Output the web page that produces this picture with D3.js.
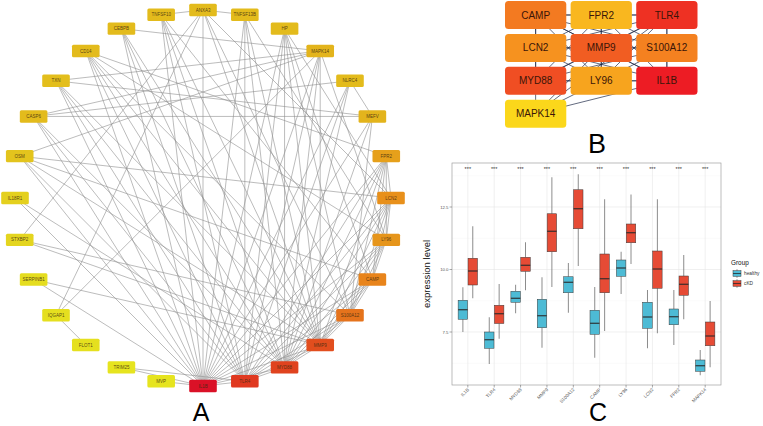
<!DOCTYPE html>
<html>
<head>
<meta charset="utf-8">
<script src="https://cdn.jsdelivr.net/npm/d3@7"></script>
<style>
html,body{margin:0;padding:0;background:#fff;}
svg{display:block;font-family:Arial,"Liberation Sans",sans-serif;}
</style>
</head>
<body>
<svg id="fig" width="763" height="426"></svg>
<script>
// ---------------- DATA ----------------
// Panel A: circular PPI network (clockwise from top)
const networkNodes = ["ANXA3","TNFSF13B","HP","MAPK14","NLRC4","MEFV","FPR2","LCN2","LY96","CAMP","S100A12","MMP9","MYD88","TLR4","IL1B","MVP","TRIM25","FLOT1","IQGAP1","SERPINB1","STXBP2","IL18R1","OSM","CASP6","TXN","CD14","CEBPB","TNFSF10"];
const hubGenes = ["CAMP","FPR2","TLR4","LCN2","MMP9","S100A12","MYD88","LY96","IL1B","MAPK14"];
const hubEdges = [
 ["CAMP","FPR2"],["CAMP","TLR4"],["CAMP","LCN2"],["CAMP","MMP9"],["CAMP","S100A12"],["CAMP","MYD88"],["CAMP","LY96"],["CAMP","IL1B"],
 ["FPR2","TLR4"],["FPR2","LCN2"],["FPR2","MMP9"],["FPR2","S100A12"],["FPR2","LY96"],["FPR2","IL1B"],["FPR2","MYD88"],
 ["TLR4","LCN2"],["TLR4","MMP9"],["TLR4","S100A12"],["TLR4","MYD88"],["TLR4","LY96"],["TLR4","IL1B"],["TLR4","MAPK14"],
 ["LCN2","MMP9"],["LCN2","S100A12"],["LCN2","MYD88"],["LCN2","LY96"],["LCN2","IL1B"],
 ["MMP9","S100A12"],["MMP9","MYD88"],["MMP9","LY96"],["MMP9","IL1B"],["MMP9","MAPK14"],
 ["S100A12","MYD88"],["S100A12","LY96"],["S100A12","IL1B"],
 ["MYD88","LY96"],["MYD88","IL1B"],["MYD88","MAPK14"],
 ["LY96","IL1B"],["LY96","MAPK14"],["IL1B","MAPK14"]
];
const peripheryEdges = [
 ["ANXA3","TNFSF10"],["ANXA3","TNFSF13B"],["ANXA3","IL1B"],["ANXA3","MMP9"],["ANXA3","S100A12"],["ANXA3","LCN2"],["ANXA3","STXBP2"],["ANXA3","IQGAP1"],
 ["TNFSF10","IL1B"],["TNFSF10","TLR4"],["TNFSF10","MYD88"],["TNFSF10","MMP9"],["TNFSF10","CAMP"],
 ["TNFSF13B","IL1B"],["TNFSF13B","TLR4"],["TNFSF13B","MYD88"],["TNFSF13B","MMP9"],["TNFSF13B","LY96"],
 ["CEBPB","MAPK14"],["CEBPB","IL1B"],["CEBPB","TLR4"],["CEBPB","MMP9"],["CEBPB","MYD88"],
 ["HP","IL1B"],["HP","TLR4"],["HP","MMP9"],["HP","S100A12"],["HP","CAMP"],["HP","LCN2"],["HP","MYD88"],
 ["CD14","TLR4"],["CD14","LY96"],["CD14","IL1B"],["CD14","MYD88"],["CD14","S100A12"],["CD14","FPR2"],["CD14","MMP9"],
 ["MAPK14","TXN"],["MAPK14","OSM"],["MAPK14","CASP6"],["MAPK14","IQGAP1"],
 ["TXN","MEFV"],["TXN","IL1B"],["TXN","TLR4"],["TXN","MMP9"],["TXN","MYD88"],
 ["NLRC4","CASP6"],["NLRC4","IL1B"],["NLRC4","MYD88"],["NLRC4","TLR4"],["NLRC4","MEFV"],
 ["CASP6","MEFV"],["CASP6","IL1B"],["CASP6","MYD88"],["CASP6","TLR4"],
 ["MEFV","IL1B"],["MEFV","MYD88"],["MEFV","S100A12"],
 ["OSM","IL1B"],["OSM","MMP9"],["OSM","LCN2"],["OSM","TLR4"],["OSM","CAMP"],
 ["IL18R1","IL1B"],["IL18R1","MYD88"],
 ["STXBP2","S100A12"],["STXBP2","MMP9"],
 ["SERPINB1","IL1B"],["SERPINB1","MMP9"],
 ["IQGAP1","FLOT1"],
 ["TRIM25","IL1B"],["TRIM25","TLR4"],
 ["MVP","IL1B"]
];
// Panel C: boxplot stats [lower whisker, Q1, median, Q3, upper whisker]
const boxCategories = ["IL1B","TLR4","MYD88","MMP9","S100A12","CAMP","LY96","LCN2","FPR2","MAPK14"];
const groups = ["healthy","cKD"];
const healthyStats = [
 [7.50,8.01,8.39,8.77,9.29],
 [6.22,6.85,7.19,7.50,8.09],
 [8.25,8.69,8.85,9.13,9.39],
 [6.87,7.67,8.15,8.81,9.69],
 [8.27,9.07,9.49,9.71,10.26],
 [6.47,7.41,7.85,8.37,9.30],
 [9.02,9.73,10.06,10.38,10.71],
 [6.85,7.65,8.10,8.69,9.18],
 [6.98,7.79,8.11,8.42,9.18],
 [5.77,5.93,6.15,6.38,6.78]
];
const ckdStats = [
 [8.85,9.38,9.94,10.45,11.73],
 [7.23,7.84,8.23,8.57,9.42],
 [9.17,9.93,10.17,10.49,11.09],
 [9.30,10.71,11.53,12.23,13.69],
 [10.14,11.63,12.43,13.19,13.81],
 [7.54,9.07,9.63,10.62,12.81],
 [10.22,11.07,11.47,11.82,13.00],
 [7.45,9.25,10.02,10.74,12.81],
 [8.01,8.97,9.41,9.74,10.58],
 [6.09,6.95,7.34,7.90,8.74]
];
const significance = ["***","***","***","***","***","***","***","***","***","***"];
const yTicks = [7.5, 10.0, 12.5];
const yTickLabels = ["7.5","10.0","12.5"];
const panelLetters = ["A","B","C"];

// ---------------- STYLES ----------------
const nodeFillA = {
 ANXA3:"#E3BB1C",TNFSF13B:"#E3BB1C",HP:"#E3BB1C",MAPK14:"#E3B41C",NLRC4:"#E3BB1C",MEFV:"#E3B41C",
 FPR2:"#E6A01B",LCN2:"#E8901B",LY96:"#E6951B",CAMP:"#E8841B",S100A12:"#E5731C",MMP9:"#E24E1E",
 MYD88:"#E0431F",TLR4:"#E03920",IL1B:"#DA1127",MVP:"#E6E41F",TRIM25:"#E6E41F",FLOT1:"#E5E01F",
 IQGAP1:"#E5DF1F",SERPINB1:"#E5DD1F",STXBP2:"#E4D51F",IL18R1:"#E4D01E",OSM:"#E3C41D",
 CASP6:"#E3BB1C",TXN:"#E3BE1C",CD14:"#E3BB1C",CEBPB:"#E3BB1C",TNFSF10:"#E3BB1C"
};
const hubFill = {
 CAMP:"#F37A21",FPR2:"#F9B71F",TLR4:"#EE3123",LCN2:"#F6921F",MMP9:"#F15D22",
 S100A12:"#F48120",MYD88:"#F04E23",LY96:"#F7A41E",IL1B:"#ED1C24",MAPK14:"#FBD71B"
};
const groupColor = d3.scaleOrdinal().domain(groups).range(["#4DBBD5","#E64B35"]);

const svg = d3.select("#fig");

// ---------------- PANEL A ----------------
(function(){
  const cx = 203, cy = 198, r = 188;
  const ang = d3.scaleLinear().domain([0, networkNodes.length]).range([0, 2*Math.PI]);
  const pos = {};
  networkNodes.forEach((n,i)=>{ pos[n] = [cx + r*Math.sin(ang(i)), cy - r*Math.cos(ang(i))]; });
  const g = svg.append("g");
  const edges = hubEdges.concat(peripheryEdges);
  g.append("g").selectAll("line").data(edges).join("line")
    .attr("x1",d=>pos[d[0]][0]).attr("y1",d=>pos[d[0]][1])
    .attr("x2",d=>pos[d[1]][0]).attr("y2",d=>pos[d[1]][1])
    .attr("stroke","#8e8e8e").attr("stroke-width",0.6);
  const w = 27.6, h = 12.4;
  const ng = g.append("g").selectAll("g").data(networkNodes).join("g")
    .attr("transform",d=>`translate(${pos[d][0]},${pos[d][1]})`);
  ng.append("rect").attr("x",-w/2).attr("y",-h/2).attr("width",w).attr("height",h).attr("rx",1.5)
    .attr("fill",d=>nodeFillA[d]);
  ng.append("text").text(d=>d).attr("text-anchor","middle").attr("dy","0.35em")
    .attr("font-size",4.5).attr("fill","#3d2a10").attr("fill-opacity",0.85);
  svg.append("text").text(panelLetters[0]).attr("x",201).attr("y",420.5)
    .attr("text-anchor","middle").attr("font-size",25).attr("fill","#000");
})();

// ---------------- PANEL B ----------------
(function(){
  const col = d3.scaleBand().domain([0,1,2]).range([505,697.5]).paddingInner(0.066);
  const row = d3.scaleBand().domain([0,1,2,3]).range([1,127.7]).paddingInner(0.149);
  const pos = {};
  hubGenes.forEach((n,i)=>{ pos[n] = {x:col(i%3), y:row(Math.floor(i/3))}; });
  const bw = col.bandwidth(), bh = row.bandwidth();
  const g = svg.append("g");
  g.append("g").selectAll("line").data(hubEdges).join("line")
    .attr("x1",d=>pos[d[0]].x+bw/2).attr("y1",d=>pos[d[0]].y+bh/2)
    .attr("x2",d=>pos[d[1]].x+bw/2).attr("y2",d=>pos[d[1]].y+bh/2)
    .attr("stroke","#1e2a48").attr("stroke-width",0.7);
  const ng = g.append("g").selectAll("g").data(hubGenes).join("g")
    .attr("transform",d=>`translate(${pos[d].x},${pos[d].y})`);
  ng.append("rect").attr("width",bw).attr("height",bh).attr("rx",3.5).attr("fill",d=>hubFill[d]);
  ng.append("text").text(d=>d).attr("x",bw/2).attr("y",bh/2).attr("dy","0.36em")
    .attr("text-anchor","middle").attr("font-size",10).attr("fill","#3a1508");
  svg.append("text").text(panelLetters[1]).attr("x",597).attr("y",153)
    .attr("text-anchor","middle").attr("font-size",27).attr("fill","#000");
})();

// ---------------- PANEL C ----------------
(function(){
  const L = 452, R = 721, T = 163, B = 385;
  const x = d3.scalePoint().domain(boxCategories).range([L,R]).padding(0.6);
  const y = d3.scaleLinear().domain([5.38,14.26]).range([B,T]);
  const step = x.step();
  const dodge = d3.scalePoint().domain(groups).range([-0.1875*step, 0.1875*step]);
  const bw = 0.36*step;
  const g = svg.append("g");
  const minor = d3.range(yTicks.length+1).map(i=>yTicks[0]-1.25+2.5*i).filter(v=>v>y.domain()[0]&&v<y.domain()[1]);
  g.append("g").selectAll("line").data(minor).join("line")
    .attr("x1",L).attr("x2",R).attr("y1",d=>y(d)).attr("y2",d=>y(d))
    .attr("stroke","#f2f2f2").attr("stroke-width",0.4);
  g.append("g").selectAll("line").data(yTicks).join("line")
    .attr("x1",L).attr("x2",R).attr("y1",d=>y(d)).attr("y2",d=>y(d))
    .attr("stroke","#e6e6e6").attr("stroke-width",0.6);
  g.append("g").selectAll("line").data(boxCategories).join("line")
    .attr("x1",d=>x(d)).attr("x2",d=>x(d)).attr("y1",T).attr("y2",B)
    .attr("stroke","#e6e6e6").attr("stroke-width",0.6);
  const rows = [];
  boxCategories.forEach((c,i)=>{
    rows.push({cat:c, grp:"healthy", s:healthyStats[i]});
    rows.push({cat:c, grp:"cKD", s:ckdStats[i]});
  });
  const bg = g.append("g").selectAll("g").data(rows).join("g")
    .attr("transform",d=>`translate(${x(d.cat)+dodge(d.grp)},0)`);
  bg.append("line").attr("x1",0).attr("x2",0).attr("y1",d=>y(d.s[0])).attr("y2",d=>y(d.s[1]))
    .attr("stroke","#6e6e6e").attr("stroke-width",0.8);
  bg.append("line").attr("x1",0).attr("x2",0).attr("y1",d=>y(d.s[3])).attr("y2",d=>y(d.s[4]))
    .attr("stroke","#6e6e6e").attr("stroke-width",0.8);
  bg.append("rect").attr("x",-bw/2).attr("width",bw)
    .attr("y",d=>y(d.s[3])).attr("height",d=>y(d.s[1])-y(d.s[3]))
    .attr("fill",d=>groupColor(d.grp)).attr("stroke","#3a3a3a").attr("stroke-width",0.5);
  bg.append("line").attr("x1",-bw/2).attr("x2",bw/2).attr("y1",d=>y(d.s[2])).attr("y2",d=>y(d.s[2]))
    .attr("stroke","#2a2a2a").attr("stroke-width",1.1);
  g.append("rect").attr("x",L).attr("y",T).attr("width",R-L).attr("height",B-T)
    .attr("fill","none").attr("stroke","#a0a0a0").attr("stroke-width",0.7);
  g.append("g").selectAll("text").data(boxCategories).join("text")
    .attr("x",d=>x(d)).attr("y",171).attr("text-anchor","middle")
    .attr("font-size",5.5).attr("fill","#333").text((d,i)=>significance[i]);
  g.append("g").selectAll("line").data(yTicks).join("line")
    .attr("x1",L-2.5).attr("x2",L).attr("y1",d=>y(d)).attr("y2",d=>y(d))
    .attr("stroke","#555").attr("stroke-width",0.5);
  g.append("g").selectAll("text").data(yTicks).join("text")
    .attr("x",L-3.5).attr("y",d=>y(d)).attr("dy","0.35em").attr("text-anchor","end")
    .attr("font-size",4.3).attr("fill","#555").text((d,i)=>yTickLabels[i]);
  g.append("text").text("expression level").attr("transform",`translate(430,${(T+B)/2}) rotate(-90)`)
    .attr("text-anchor","middle").attr("font-size",9.5).attr("fill","#111");
  g.append("g").selectAll("line").data(boxCategories).join("line")
    .attr("x1",d=>x(d)).attr("x2",d=>x(d)).attr("y1",B).attr("y2",B+2.5)
    .attr("stroke","#555").attr("stroke-width",0.5);
  g.append("g").selectAll("text").data(boxCategories).join("text")
    .attr("transform",d=>`translate(${x(d)+1.5},${B+5}) rotate(-45)`)
    .attr("text-anchor","end").attr("font-size",4.6).attr("fill","#555").text(d=>d);
  const lg = g.append("g").attr("transform","translate(731,0)");
  lg.append("text").text("Group").attr("x",0).attr("y",265).attr("font-size",6.4).attr("fill","#111");
  const items = lg.selectAll("g.it").data(groups).join("g").attr("class","it")
    .attr("transform",(d,i)=>`translate(2,${273.5+i*10})`);
  items.append("line").attr("x1",4).attr("x2",4).attr("y1",-4.5).attr("y2",4.5).attr("stroke","#6e6e6e").attr("stroke-width",0.6);
  items.append("rect").attr("x",0).attr("y",-2.8).attr("width",8).attr("height",5.6)
    .attr("fill",d=>groupColor(d)).attr("stroke","#3a3a3a").attr("stroke-width",0.5);
  items.append("line").attr("x1",0).attr("x2",8).attr("y1",0).attr("y2",0).attr("stroke","#2a2a2a").attr("stroke-width",0.8);
  items.append("text").text(d=>d).attr("x",11).attr("dy","0.35em").attr("font-size",4.8).attr("fill","#333");
  svg.append("text").text(panelLetters[2]).attr("x",598).attr("y",420.5)
    .attr("text-anchor","middle").attr("font-size",25).attr("fill","#000");
})();
</script>
</body>
</html>
